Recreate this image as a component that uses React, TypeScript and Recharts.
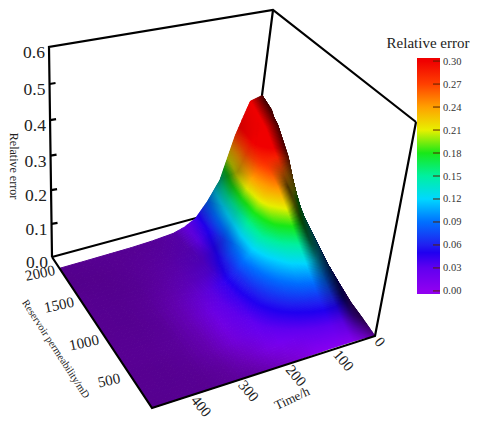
import { ScatterChart, Scatter, XAxis, YAxis, ComposedChart, Bar } from "recharts";

// axis values
const timeTicks = [0, 100, 200, 300, 400];
const permTicks = [500, 1000, 1500, 2000];
const errorTicks = [0, 0.1, 0.2, 0.3, 0.4, 0.5, 0.6];
const scaleTicks = [0, 0.03, 0.06, 0.09, 0.12, 0.15, 0.18, 0.21, 0.24, 0.27, 0.3];

// surface samples
const timeGrid = [0, 25, 50, 75, 100, 125, 150, 175, 200, 250, 300, 350, 400, 470];
const permGrid = [0, 200, 400, 600, 800, 1000, 1200, 1400, 1600, 1850];
const errorRows = [
  [0, 0.005, 0.006, 0.006, 0.006, 0.005, 0.004, 0.003, 0.002, 0.001, 0, 0, 0, 0],
  [0.012, 0.03, 0.035, 0.035, 0.032, 0.027, 0.021, 0.016, 0.012, 0.005, 0.002, 0.001, 0.001, 0],
  [0.022, 0.055, 0.068, 0.068, 0.062, 0.055, 0.046, 0.036, 0.026, 0.012, 0.004, 0.002, 0.001, 0],
  [0.04, 0.085, 0.105, 0.11, 0.1, 0.085, 0.068, 0.052, 0.036, 0.016, 0.006, 0.003, 0.001, 0],
  [0.06, 0.115, 0.15, 0.155, 0.14, 0.115, 0.088, 0.062, 0.042, 0.02, 0.007, 0.003, 0.002, 0.001],
  [0.09, 0.145, 0.19, 0.205, 0.185, 0.15, 0.105, 0.068, 0.044, 0.02, 0.007, 0.003, 0.002, 0.001],
  [0.12, 0.185, 0.235, 0.25, 0.225, 0.16, 0.095, 0.058, 0.035, 0.016, 0.006, 0.003, 0.002, 0.001],
  [0.16, 0.28, 0.285, 0.28, 0.24, 0.145, 0.07, 0.042, 0.026, 0.012, 0.005, 0.003, 0.002, 0.001],
  [0.24, 0.34, 0.335, 0.3, 0.22, 0.12, 0.055, 0.03, 0.018, 0.009, 0.004, 0.002, 0.001, 0.001],
  [0.33, 0.38, 0.37, 0.275, 0.145, 0.085, 0.04, 0.022, 0.012, 0.006, 0.003, 0.002, 0.001, 0],
];

// colour bar
const scaleValues = [0, 0.03, 0.05, 0.06, 0.09, 0.12, 0.15, 0.18, 0.21, 0.24, 0.27, 0.3];
const scaleColors = [
  [144, 0, 240], [96, 0, 240], [32, 0, 240], [32, 32, 240], [0, 112, 255], [0, 216, 255],
  [0, 240, 160], [24, 232, 24], [232, 240, 0], [255, 160, 0], [255, 64, 0], [240, 0, 0],
];

const TIME_MAX = 470;
const PERM_MAX = 2000;
const ERROR_MAX = 0.6;

// box corners on the page: a = back left, b = front, c = right, d = back
const floorBox = { a: [52, 257], b: [152, 408], c: [375, 336], d: [248, 204] };
const topBox = { a: [49, 47], b: [165, 178], c: [416, 122], d: [273, 10] };
const DEPTH = 0.07;

const quad = (box: any, u: number, v: number, i: number) =>
  box.c[i] + u * (box.b[i] - box.c[i]) + v * (box.d[i] - box.c[i]) + u * v * (box.a[i] + box.c[i] - box.b[i] - box.d[i]);

const project = (t: number, p: number, e: number) => {
  const u = t / TIME_MAX;
  const v = p / PERM_MAX;
  const w = e / ERROR_MAX;
  const f = w / (1 + DEPTH * (1 - w));
  return {
    x: quad(floorBox, u, v, 0) + (quad(topBox, u, v, 0) - quad(floorBox, u, v, 0)) * f,
    y: quad(floorBox, u, v, 1) + (quad(topBox, u, v, 1) - quad(floorBox, u, v, 1)) * f,
  };
};

const colorAt = (e: number) => {
  const z = Math.min(0.3, Math.max(0, e));
  let k = 0;
  while (k < scaleValues.length - 2 && z > scaleValues[k + 1]) k++;
  const r = (z - scaleValues[k]) / (scaleValues[k + 1] - scaleValues[k]);
  return scaleColors[k].map((c, i) => c + (scaleColors[k + 1][i] - c) * r);
};

// light comes from the viewer's side of the box
const shadeAt = (i: number, j: number) => {
  const row = errorRows[i];
  const j0 = Math.max(0, j - 1);
  const j1 = Math.min(timeGrid.length - 1, j + 1);
  const i0 = Math.max(0, i - 1);
  const i1 = Math.min(permGrid.length - 1, i + 1);
  const dx = (row[j1] - row[j0]) / ERROR_MAX / ((timeGrid[j1] - timeGrid[j0]) / TIME_MAX);
  const dy = (errorRows[i1][j] - errorRows[i0][j]) / ERROR_MAX / ((permGrid[i1] - permGrid[i0]) / PERM_MAX);
  const len = Math.sqrt(dx * dx + dy * dy + 1);
  const dot = (-dx * 0.6 + dy * 0.55 + 0.58) / len;
  return Math.min(1, Math.max(0.3, dot * dot * 1.75));
};

const cells: any[] = [];
for (let i = permGrid.length - 2; i >= 0; i--) {
  for (let j = 0; j < timeGrid.length - 1; j++) {
    cells.push({ ...project(timeGrid[j], permGrid[i], errorRows[i][j]), i, j });
  }
}

const CellPatch = (props: any) => {
  const { cx, cy, payload } = props;
  const { i, j } = payload;
  const corners = [errorRows[i][j], errorRows[i][j + 1], errorRows[i + 1][j], errorRows[i + 1][j + 1]];
  // steep cells get more facets so the colour bands stay smooth
  const sub = Math.min(24, Math.round(4 + (Math.max(...corners) - Math.min(...corners)) * 300));
  const anchor = project(timeGrid[j], permGrid[i], errorRows[i][j]);
  const pt = (a: number, b: number) => {
    const e = corners[0] * (1 - a) * (1 - b) + corners[1] * a * (1 - b) + corners[2] * (1 - a) * b + corners[3] * a * b;
    const s =
      shadeAt(i, j) * (1 - a) * (1 - b) +
      shadeAt(i, j + 1) * a * (1 - b) +
      shadeAt(i + 1, j) * (1 - a) * b +
      shadeAt(i + 1, j + 1) * a * b;
    const t = timeGrid[j] + (timeGrid[j + 1] - timeGrid[j]) * a;
    const p = permGrid[i] + (permGrid[i + 1] - permGrid[i]) * b;
    const q = project(t, p, e);
    return { x: q.x - anchor.x + cx, y: q.y - anchor.y + cy, e, s };
  };
  const polys = [];
  for (let b = sub - 1; b >= 0; b--) {
    for (let a = 0; a < sub; a++) {
      const p1 = pt(a / sub, b / sub);
      const p2 = pt((a + 1) / sub, b / sub);
      const p3 = pt((a + 1) / sub, (b + 1) / sub);
      const p4 = pt(a / sub, (b + 1) / sub);
      const mid = pt((a + 0.5) / sub, (b + 0.5) / sub);
      const c = colorAt(mid.e).map((v) => Math.round(v * mid.s));
      const fill = `rgb(${c[0]},${c[1]},${c[2]})`;
      polys.push(
        <polygon
          key={`${a}-${b}`}
          points={`${p1.x},${p1.y} ${p2.x},${p2.y} ${p3.x},${p3.y} ${p4.x},${p4.y}`}
          fill={fill}
          stroke={fill}
          strokeWidth={1}
          strokeLinejoin="round"
        />
      );
    }
  }
  return <g>{polys}</g>;
};

const NoDot = () => <g />;

const TextMark = (props: any) => {
  const { cx, cy, payload } = props;
  return (
    <text
      x={cx}
      y={cy}
      fontFamily="'Liberation Serif'"
      fontSize={payload.size}
      fill="#222"
      textAnchor="middle"
      dominantBaseline="central"
      transform={`rotate(${payload.rotate} ${cx} ${cy})`}
    >
      {payload.label}
    </text>
  );
};

const at = (t: number, p: number, e: number, dx: number, dy: number) => {
  const q = project(t, p, e);
  return { x: q.x + dx, y: q.y + dy };
};

const corner = (t: number, p: number, e: number) => project(t, p, e);

const backEdges = [
  corner(TIME_MAX, PERM_MAX, 0),
  corner(TIME_MAX, PERM_MAX, ERROR_MAX),
  corner(0, PERM_MAX, ERROR_MAX),
  corner(0, 0, ERROR_MAX),
];
const backVertical = [corner(0, PERM_MAX, ERROR_MAX), corner(0, PERM_MAX, 0), corner(TIME_MAX, PERM_MAX, 0)];
const frontEdges = [
  corner(TIME_MAX, PERM_MAX, 0),
  corner(TIME_MAX, 0, 0),
  corner(0, 0, 0),
  corner(0, 0, ERROR_MAX),
];

const errorLabels = errorTicks.map((e) => ({
  ...at(TIME_MAX, PERM_MAX, e, -15, 5),
  label: e.toFixed(1),
  size: 17.5,
  rotate: 0,
}));
const timeLabels = timeTicks.map((t) => ({
  ...at(t, 0, 0, t === 0 ? 5 : 16, t === 0 ? 6 : 9),
  label: String(t),
  size: 15,
  rotate: 50,
}));
const permLabels = permTicks.map((p) => ({
  ...at(TIME_MAX, p, 0, p === 2000 ? -12 : -18, p === 2000 ? 16 : 10),
  label: String(p),
  size: 15,
  rotate: -12,
}));
const titleLabels = [
  { x: 14, y: 166, label: "Relative error", size: 12, rotate: 90 },
  { x: 56, y: 349, label: "Reservoir permeability/mD", size: 10.5, rotate: 57 },
  { x: 292, y: 398, label: "Time/h", size: 13, rotate: -25 },
  { x: 428, y: 43, label: "Relative error", size: 15, rotate: 0 },
];

const errorMarks = errorTicks.slice(1, -1).map((e) => {
  const a = project(TIME_MAX, PERM_MAX, e);
  return [a, { x: a.x + 6, y: a.y - 1 }];
});

const lineStyle = { stroke: "#000", strokeWidth: 2.2 };

const scaleRow = [{ name: "error", range: [-0.004, 0.304] }];

const ScaleTick = (props: any) => {
  const { x, y, payload } = props;
  return (
    <g>
      <line x1={x - 7} x2={x} y1={y} y2={y} stroke="#552200" strokeWidth={1} />
      <text x={x + 3} y={y} fontFamily="'Liberation Serif'" fontSize={10.5} fill="#333" dominantBaseline="central">
        {payload.value.toFixed(2)}
      </text>
    </g>
  );
};

const App = () => {
  return (
    <div style={{ position: "absolute", left: 0, top: 0, width: 480, height: 427, background: "#fff" }}>
      <div style={{ position: "absolute", left: 0, top: 0 }}>
        <ScatterChart width={480} height={427} margin={{ top: 0, right: 0, bottom: 0, left: 0 }}>
          <XAxis type="number" dataKey="x" domain={[0, 480]} hide />
          <YAxis type="number" dataKey="y" domain={[0, 427]} reversed hide />
          <Scatter data={backEdges} line={lineStyle} shape={NoDot} isAnimationActive={false} />
          <Scatter data={backVertical} line={lineStyle} shape={NoDot} isAnimationActive={false} />
          {errorMarks.map((m, i) => (
            <Scatter key={i} data={m} line={lineStyle} shape={NoDot} isAnimationActive={false} />
          ))}
          <Scatter data={cells} shape={CellPatch} isAnimationActive={false} />
          <Scatter data={frontEdges} line={lineStyle} shape={NoDot} isAnimationActive={false} />
          <Scatter data={errorLabels} shape={TextMark} isAnimationActive={false} />
          <Scatter data={timeLabels} shape={TextMark} isAnimationActive={false} />
          <Scatter data={permLabels} shape={TextMark} isAnimationActive={false} />
          <Scatter data={titleLabels} shape={TextMark} isAnimationActive={false} />
        </ScatterChart>
      </div>
      <div style={{ position: "absolute", left: 417, top: 50 }}>
        <ComposedChart
          width={63}
          height={252}
          data={scaleRow}
          margin={{ top: 8, right: 0, bottom: 8, left: 0 }}
          barCategoryGap={0}
        >
          <defs>
            <linearGradient id="scale" x1="0" y1="1" x2="0" y2="0">
              {scaleValues.map((v, i) => (
                <stop
                  key={v}
                  offset={`${((v + 0.004) / 0.308) * 100}%`}
                  stopColor={`rgb(${scaleColors[i].join(",")})`}
                />
              ))}
            </linearGradient>
          </defs>
          <XAxis dataKey="name" hide />
          <YAxis
            orientation="right"
            width={40}
            domain={[-0.004, 0.304]}
            ticks={scaleTicks}
            axisLine={false}
            tickLine={false}
            tickSize={0}
            tickMargin={0}
            tick={ScaleTick}
            interval={0}
          />
          <Bar dataKey="range" fill="url(#scale)" isAnimationActive={false} />
        </ComposedChart>
      </div>
    </div>
  );
};

export default App;
